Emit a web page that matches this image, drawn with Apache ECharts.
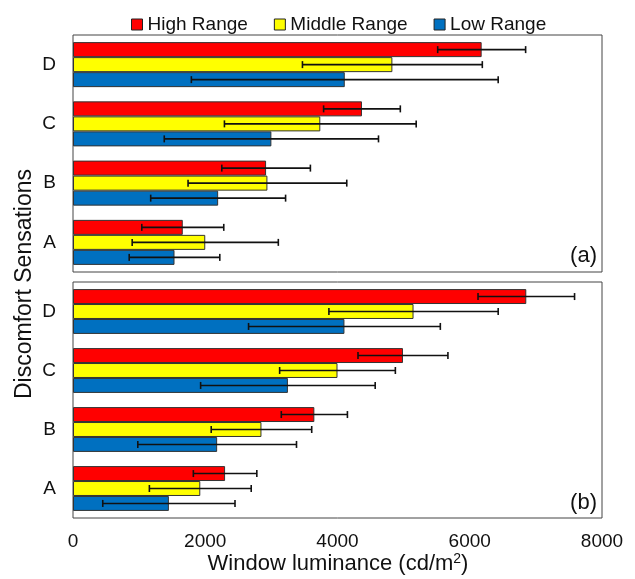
<!DOCTYPE html>
<html>
<head>
<meta charset="utf-8">
<script src="https://cdn.jsdelivr.net/npm/echarts@6/dist/echarts.min.js"></script>
<style>
  html, body { margin: 0; padding: 0; background: #fff; }
  #chart { width: 635px; height: 579px; }
</style>
</head>
<body>
<div id="chart"></div>
<script>
// categories, bottom to top
var categories = ['A', 'B', 'C', 'D'];
var seriesNames = ['High Range', 'Middle Range', 'Low Range'];
var xTicks = [0, 2000, 4000, 6000, 8000];

// panel (a): means and error (+/-)
var aHighMean = [1660, 2920, 4370, 6180];
var aHighErr = [620, 670, 580, 665];
var aMidMean = [2000, 2940, 3740, 4830];
var aMidErr = [1105, 1200, 1450, 1360];
var aLowMean = [1535, 2195, 3000, 4110];
var aLowErr = [685, 1020, 1620, 2320];

// panel (b)
var bHighMean = [2300, 3650, 4990, 6855];
var bHighErr = [480, 500, 680, 730];
var bMidMean = [1925, 2850, 4000, 5150];
var bMidErr = [770, 760, 875, 1280];
var bLowMean = [1450, 2180, 3250, 4105];
var bLowErr = [1000, 1200, 1320, 1450];

var colors = ['#FF0000', '#FFFF00', '#0070C0'];
var FONT = 'Liberation Sans, Arial, sans-serif';
var GAP = 0.24; // barCategoryGap

function errData(mean, err) {
    var out = [];
    for (var i = 0; i < mean.length; i++) {
        out.push([mean[i] - err[i], mean[i] + err[i], i]);
    }
    return out;
}

// k = position in group, 0 = top
function errRender(k) {
    return function (params, api) {
        var lo = api.coord([api.value(0), api.value(2)]);
        var hi = api.coord([api.value(1), api.value(2)]);
        var band = api.size([0, 1])[1];
        var bw = band * (1 - GAP) / 3;
        var y = lo[1] - band * (1 - GAP) / 2 + bw * (k + 0.5);
        var cap = 3.5;
        var st = { stroke: '#111', lineWidth: 1.6 };
        return {
            type: 'group',
            children: [
                { type: 'line', shape: { x1: lo[0], y1: y, x2: hi[0], y2: y }, style: st },
                { type: 'line', shape: { x1: lo[0], y1: y - cap, x2: lo[0], y2: y + cap }, style: st },
                { type: 'line', shape: { x1: hi[0], y1: y - cap, x2: hi[0], y2: y + cap }, style: st }
            ]
        };
    };
}

function barSeries(name, data, idx, color) {
    return {
        name: name,
        type: 'bar',
        xAxisIndex: idx,
        yAxisIndex: idx,
        data: data,
        barGap: '0%',
        barCategoryGap: (GAP * 100) + '%',
        itemStyle: { color: color, borderColor: '#333', borderWidth: 1 },
        animation: false
    };
}

function errSeries(mean, err, idx, k) {
    return {
        type: 'custom',
        xAxisIndex: idx,
        yAxisIndex: idx,
        data: errData(mean, err),
        encode: { x: [0, 1], y: 2 },
        renderItem: errRender(k),
        z: 10,
        silent: true,
        animation: false
    };
}

var panels = [
    [aHighMean, aHighErr, aMidMean, aMidErr, aLowMean, aLowErr],
    [bHighMean, bHighErr, bMidMean, bMidErr, bLowMean, bLowErr]
];

var series = [];
for (var p = 0; p < 2; p++) {
    var d = panels[p];
    series.push(barSeries(seriesNames[0], d[0], p, colors[0]));
    series.push(barSeries(seriesNames[1], d[2], p, colors[1]));
    series.push(barSeries(seriesNames[2], d[4], p, colors[2]));
    series.push(errSeries(d[0], d[1], p, 0));
    series.push(errSeries(d[2], d[3], p, 1));
    series.push(errSeries(d[4], d[5], p, 2));
}

function xAxisOf(idx, showLabel) {
    return {
        type: 'value',
        gridIndex: idx,
        min: xTicks[0],
        max: xTicks[xTicks.length - 1],
        interval: 2000,
        splitLine: { show: false },
        axisLine: { show: false },
        axisTick: { show: false },
        axisLabel: {
            show: showLabel, color: '#111', fontSize: 19, fontFamily: FONT, margin: 14,
            formatter: function (v) { return String(v); }
        }
    };
}

function yAxisOf(idx) {
    return {
        type: 'category',
        gridIndex: idx,
        data: categories,
        axisLine: { show: false },
        axisTick: { show: false },
        axisLabel: { color: '#111', fontSize: 19, fontFamily: FONT, margin: 17 }
    };
}

var option = {
    backgroundColor: '#fff',
    animation: false,
    legend: {
        data: seriesNames,
        top: 10,
        left: 126,
        icon: 'rect',
        itemWidth: 11,
        itemHeight: 11,
        itemGap: 26,
        itemStyle: { borderColor: '#222', borderWidth: 1 },
        textStyle: { color: '#111', fontSize: 19, fontFamily: FONT }
    },
    grid: [
        { left: 73, right: 33, top: 35, height: 237, show: true, borderColor: '#444', borderWidth: 1, backgroundColor: '#fff' },
        { left: 73, right: 33, top: 282, height: 236, show: true, borderColor: '#444', borderWidth: 1, backgroundColor: '#fff' }
    ],
    xAxis: [xAxisOf(0, false), xAxisOf(1, true)],
    yAxis: [yAxisOf(0), yAxisOf(1)],
    graphic: [
        { type: 'text', x: 597, y: 256, style: { text: '(a)', fontSize: 22, fontFamily: FONT, fill: '#111', align: 'right', verticalAlign: 'middle' } },
        { type: 'text', x: 597, y: 503, style: { text: '(b)', fontSize: 22, fontFamily: FONT, fill: '#111', align: 'right', verticalAlign: 'middle' } },
        {
            type: 'text', x: 25, y: 284, rotation: Math.PI / 2,
            style: { text: 'Discomfort Sensations', fontSize: 23, fontFamily: FONT, fill: '#111', align: 'center', verticalAlign: 'middle' }
        },
        {
            type: 'text', x: 338, y: 564,
            style: {
                text: '{m|Window luminance (cd/m}{s|2}{m|)}',
                align: 'center', verticalAlign: 'middle',
                rich: {
                    m: { fontSize: 22, fontFamily: FONT, fill: '#111' },
                    s: { fontSize: 14, fontFamily: FONT, fill: '#111', verticalAlign: 'top', padding: [0, 0, 9, 0] }
                }
            }
        }
    ],
    series: series
};

var myChart = echarts.init(document.getElementById('chart'));
myChart.setOption(option);
</script>
</body>
</html>
